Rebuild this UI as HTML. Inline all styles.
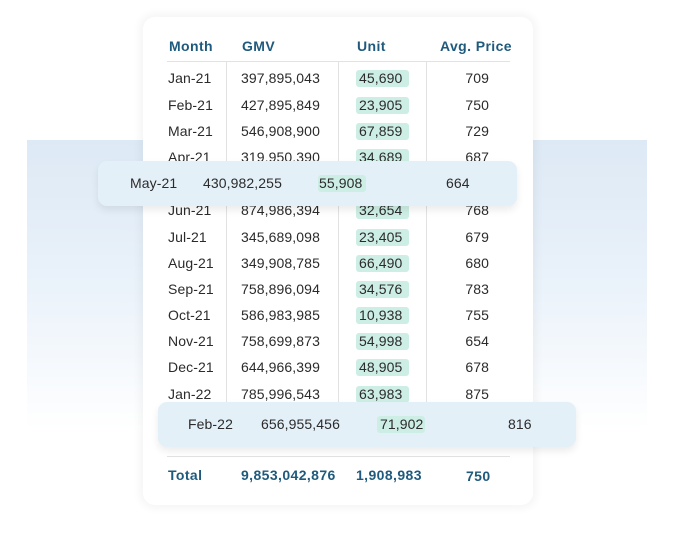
<!DOCTYPE html>
<html><head><style>
*{margin:0;padding:0;box-sizing:border-box}
body{width:675px;height:549px;background:#fff;position:relative;overflow:hidden;font-family:"Liberation Sans",sans-serif;color:#2b2b2b;font-size:14px}
.bg{position:absolute;left:27px;top:140px;width:620px;height:290px;background:linear-gradient(#dde9f5,#eaf2fa 50%,#fff)}
.card{position:absolute;left:143px;top:17px;width:390px;height:488px;background:#fff;border-radius:12px;box-shadow:0 0 8px 4px rgba(0,0,0,0.04)}
.t{position:absolute;line-height:16px;white-space:nowrap;transform:translateY(-8px);letter-spacing:0.1px}
.h{font-weight:bold;color:#1f5a7d;font-size:14px;letter-spacing:0.4px}
.r{text-align:right}
.hl{position:absolute;background:#cdeee5;border-radius:3px;height:17px;transform:translateY(-8px)}
.vl{position:absolute;top:62px;width:1px;height:384px;background:#e2e2e2}
.bar{position:absolute;height:45px;background:#e4f0f8;border-radius:9px;box-shadow:0 4px 8px rgba(0,0,0,0.08)}
</style></head><body>
<div class="bg"></div>
<div class="card"></div>
<div style="position:absolute;left:167px;top:61px;width:343px;height:1px;background:#e2e2e2"></div>
<div class="vl" style="left:226px"></div>
<div class="vl" style="left:338px"></div>
<div class="vl" style="left:426px"></div>
<div style="position:absolute;left:167px;top:456px;width:343px;height:1px;background:#e2e2e2"></div>
<div class="t h" style="left:169px;top:46px">Month</div>
<div class="t h" style="left:242px;top:46px">GMV</div>
<div class="t h" style="left:357px;top:46px">Unit</div>
<div class="t h" style="left:440px;top:46px">Avg. Price</div>

<div id="rows"></div>
<script>
var d=[["Jan-21","397,895,043","45,690","709",78],["Feb-21","427,895,849","23,905","750",105],["Mar-21","546,908,900","67,859","729",131],["Apr-21","319,950,390","34,689","687",157],["Jun-21","874,986,394","32,654","768",210],["Jul-21","345,689,098","23,405","679",237],["Aug-21","349,908,785","66,490","680",263],["Sep-21","758,896,094","34,576","783",289],["Oct-21","586,983,985","10,938","755",315],["Nov-21","758,699,873","54,998","654",341],["Dec-21","644,966,399","48,905","678",367],["Jan-22","785,996,543","63,983","875",394]];
var h="";d.forEach(function(r){var y=r[4];
h+='<div class="hl" style="left:356px;top:'+y+'px;width:53px"></div>'+
'<div class="t" style="left:168px;top:'+y+'px">'+r[0]+'</div>'+
'<div class="t" style="left:241px;top:'+y+'px">'+r[1]+'</div>'+
'<div class="t" style="left:359px;top:'+y+'px">'+r[2]+'</div>'+
'<div class="t r" style="left:440px;width:49px;top:'+y+'px">'+r[3]+'</div>';});
document.getElementById("rows").innerHTML=h;
</script>

<div class="bar" style="left:98px;top:161px;width:419px"></div>
<div class="hl" style="left:318px;top:183px;width:48px"></div>
<div class="t" style="left:130px;top:183px">May-21</div>
<div class="t" style="left:203px;top:183px">430,982,255</div>
<div class="t" style="left:319px;top:183px">55,908</div>
<div class="t" style="left:446px;top:183px">664</div>

<div class="bar" style="left:158px;top:402px;width:418px"></div>
<div class="hl" style="left:377px;top:424px;width:48px"></div>
<div class="t" style="left:188px;top:424px">Feb-22</div>
<div class="t" style="left:261px;top:424px">656,955,456</div>
<div class="t" style="left:380px;top:424px">71,902</div>
<div class="t" style="left:508px;top:424px">816</div>

<div class="t h" style="left:168px;top:475px">Total</div>
<div class="t h" style="left:241px;top:475px">9,853,042,876</div>
<div class="t h" style="left:356px;top:475px">1,908,983</div>
<div class="t h" style="left:466px;top:476px">750</div>
</body></html>
